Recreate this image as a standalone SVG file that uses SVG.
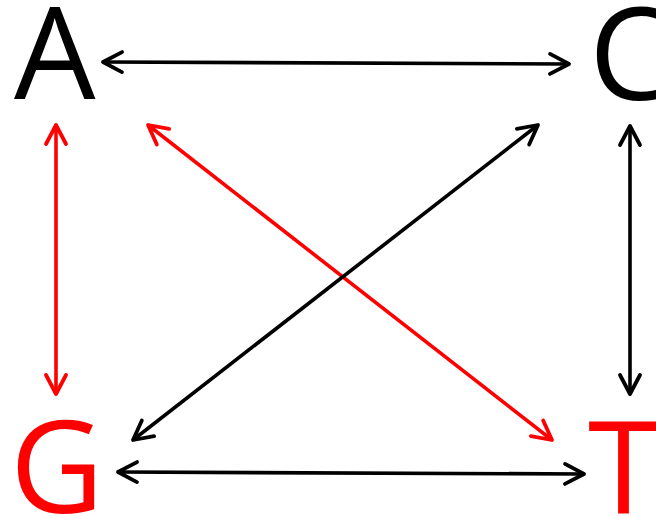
<svg xmlns="http://www.w3.org/2000/svg" width="656" height="516" viewBox="0 0 656 516">
<style>
.lbl{font-family:"Open Sans","Noto Sans",sans-serif;font-size:129px}
.k{fill:#000}
.r{fill:#ff0000}
.ln{stroke-width:3.6;fill:none}
.lk{stroke:#000}
.lr{stroke:#ff0000}
</style>
<defs>
<marker id="mk" markerUnits="userSpaceOnUse" orient="auto-start-reverse" refX="0" refY="0" markerWidth="40" markerHeight="40" viewBox="-30 -20 40 40" overflow="visible">
<path d="M-19,-10 L0,0 L-19,10" fill="none" stroke="#000" stroke-width="3.8" stroke-linecap="round" stroke-linejoin="round"/>
</marker>
<marker id="mr" markerUnits="userSpaceOnUse" orient="auto-start-reverse" refX="0" refY="0" markerWidth="40" markerHeight="40" viewBox="-30 -20 40 40" overflow="visible">
<path d="M-19,-10 L0,0 L-19,10" fill="none" stroke="#ff0000" stroke-width="3.8" stroke-linecap="round" stroke-linejoin="round"/>
</marker>
</defs>
<g id="nodeA"><text class="lbl k" x="14" y="99">A</text></g>
<g id="nodeC"><text class="lbl k" x="589" y="100">C</text></g>
<g id="nodeG"><text class="lbl r" x="10" y="513">G</text></g>
<g id="nodeT"><text class="lbl r" x="588" y="513">T</text></g>
<g id="connectors">
<line class="ln lk" x1="103" y1="62" x2="569" y2="64" marker-start="url(#mk)" marker-end="url(#mk)"/>
<line class="ln lk" x1="118" y1="472" x2="584" y2="474" marker-start="url(#mk)" marker-end="url(#mk)"/>
<line class="ln lr" x1="56" y1="125" x2="56" y2="394" marker-start="url(#mr)" marker-end="url(#mr)"/>
<line class="ln lk" x1="630" y1="126" x2="630" y2="394" marker-start="url(#mk)" marker-end="url(#mk)"/>
<line class="ln lr" x1="148" y1="125" x2="552" y2="440" marker-start="url(#mr)" marker-end="url(#mr)"/>
<line class="ln lk" x1="538" y1="125" x2="133" y2="440" marker-start="url(#mk)" marker-end="url(#mk)"/>
</g>
</svg>
